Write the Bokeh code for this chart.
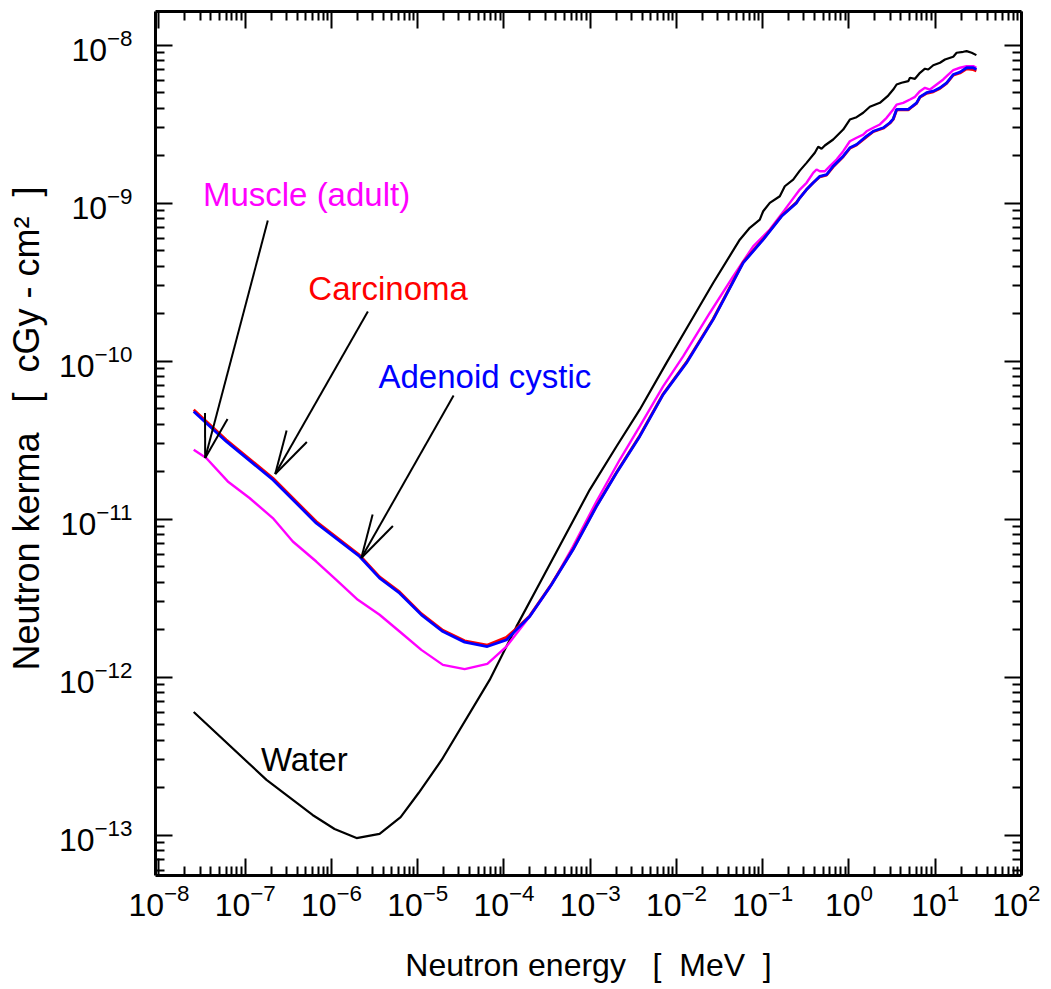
import math
import numpy as np
from bokeh.plotting import figure
from bokeh.models import Range1d, FixedTicker, Label, LogAxis, CustomJSTickFormatter
from bokeh.embed import file_html
from bokeh.resources import INLINE

# ---------------- data (log10 of energy [MeV] and log10 of kerma [cGy cm^2]) ----------------
water_log_e = [-7.597, -6.753, -6.219, -5.964, -5.709, -5.442, -5.198, -4.990, -4.723, -4.166,
               -3.856, -3.586, -3.316, -3.006, -2.696, -2.426, -2.116, -1.846, -1.575, -1.266,
               -1.150, -1.034, -0.995, -0.918, -0.802, -0.744, -0.647, -0.570, -0.492, -0.396,
               -0.357, -0.318, -0.280, -0.183, -0.067, 0.010, 0.088, 0.165, 0.242, 0.358,
               0.455, 0.513, 0.552, 0.610, 0.687, 0.707, 0.765, 0.823, 0.881, 0.919,
               0.977, 1.055, 1.113, 1.209, 1.248, 1.325, 1.364, 1.422, 1.477]
water_log_k = [-12.220, -12.650, -12.872, -12.961, -13.018, -12.992, -12.885, -12.733, -12.524, -12.017,
               -11.680, -11.405, -11.130, -10.814, -10.540, -10.307, -10.011, -9.758, -9.505, -9.231,
               -9.156, -9.104, -9.051, -8.998, -8.956, -8.893, -8.851, -8.794, -8.745, -8.681,
               -8.643, -8.656, -8.635, -8.597, -8.534, -8.471, -8.456, -8.428, -8.390, -8.365,
               -8.319, -8.281, -8.249, -8.238, -8.228, -8.206, -8.213, -8.175, -8.149, -8.154,
               -8.127, -8.111, -8.091, -8.073, -8.048, -8.042, -8.038, -8.048, -8.063]

muscle_log_e = [-7.597, -7.452, -7.202, -6.950, -6.680, -6.448, -6.176, -5.944, -5.694, -5.442,
                -5.210, -4.958, -4.708, -4.456, -4.193, -3.972, -3.702, -3.470, -3.200, -2.928,
                -2.658, -2.426, -2.155, -1.923, -1.614, -1.343, -1.111, -0.918, -0.744, -0.570,
                -0.492, -0.415, -0.376, -0.338, -0.280, -0.222, -0.144, -0.067, 0.010, 0.088,
                0.165, 0.204, 0.281, 0.358, 0.436, 0.513, 0.552, 0.629, 0.707, 0.765,
                0.823, 0.881, 0.939, 1.016, 1.093, 1.151, 1.209, 1.287, 1.364, 1.441, 1.477]
muscle_log_k = [-10.560, -10.613, -10.761, -10.866, -10.993, -11.141, -11.268, -11.384, -11.510, -11.605,
                -11.711, -11.827, -11.922, -11.949, -11.916, -11.806, -11.616, -11.434, -11.173, -10.888,
                -10.624, -10.413, -10.160, -9.970, -9.695, -9.463, -9.273, -9.167, -9.041, -8.914,
                -8.871, -8.808, -8.787, -8.798, -8.798, -8.766, -8.724, -8.671, -8.608, -8.586,
                -8.566, -8.545, -8.523, -8.502, -8.460, -8.407, -8.376, -8.365, -8.344, -8.327,
                -8.291, -8.270, -8.281, -8.249, -8.217, -8.186, -8.158, -8.143, -8.133, -8.133, -8.143]

adenoid_log_e = [-7.597, -7.220, -6.680, -6.176, -5.674, -5.442, -5.210, -4.958, -4.708, -4.456,
                 -4.193, -3.972, -3.856, -3.702, -3.450, -3.200, -2.928, -2.696, -2.426, -2.155,
                 -1.884, -1.575, -1.227, -0.995, -0.782, -0.608, -0.570, -0.492, -0.415, -0.338,
                 -0.260, -0.183, -0.067, 0.010, 0.088, 0.204, 0.281, 0.397, 0.474, 0.513,
                 0.552, 0.687, 0.726, 0.784, 0.823, 0.900, 0.977, 1.055, 1.132, 1.209,
                 1.287, 1.364, 1.441, 1.477]
adenoid_log_k = [-10.318, -10.508, -10.750, -11.025, -11.236, -11.373, -11.468, -11.605, -11.711, -11.778,
                 -11.806, -11.764, -11.700, -11.616, -11.415, -11.194, -10.920, -10.708, -10.476, -10.212,
                 -10.011, -9.737, -9.378, -9.231, -9.083, -8.998, -8.966, -8.914, -8.871, -8.830,
                 -8.819, -8.766, -8.703, -8.650, -8.629, -8.576, -8.545, -8.523, -8.491, -8.466,
                 -8.407, -8.407, -8.390, -8.365, -8.327, -8.301, -8.291, -8.270, -8.238, -8.186,
                 -8.171, -8.143, -8.143, -8.154]

carcinoma_log_e = adenoid_log_e
carcinoma_log_k = [-10.307, -10.498, -10.740, -11.015, -11.228, -11.365, -11.460, -11.598, -11.703, -11.770,
                   -11.797, -11.747, -11.692, -11.612, -11.412, -11.190, -10.916, -10.704, -10.472, -10.208,
                   -10.006, -9.733, -9.374, -9.227, -9.080, -8.995, -8.966, -8.914, -8.871, -8.833,
                   -8.822, -8.770, -8.706, -8.653, -8.632, -8.580, -8.548, -8.526, -8.494, -8.470,
                   -8.410, -8.410, -8.393, -8.368, -8.330, -8.305, -8.295, -8.274, -8.242, -8.190,
                   -8.176, -8.150, -8.155, -8.163]

x_major_exp = list(range(-8, 3))
y_major_exp = list(range(-13, -7))
minor_mult = [2, 3, 4, 5, 6, 7, 8, 9]

# annotation texts
label_muscle = "Muscle (adult)"
label_carc = "Carcinoma"
label_aden = "Adenoid cystic"
label_water = "Water"
NB = "\u00a0"
x_title = "Neutron energy" + NB * 3 + "[" + NB * 2 + "MeV" + NB * 2 + "]"
y_title = NB * 3 + "Neutron kerma" + NB * 3 + "[" + NB * 2 + "cGy - cm\u00b2" + NB * 2 + "]"

# ---------------- layout ----------------
FONT = "Liberation Sans"
X_LO, X_HI = -8.04, 2.0
Y_LO, Y_HI = -13.255, -7.787
BL, BT, BR, BB = 155, 11, 19, 112
FW, FH = 866, 864
W = BL + FW + BR
H = BT + FH + BB

p = figure(width=W, height=H, x_axis_type="log", y_axis_type="log",
           x_range=Range1d(10 ** X_LO, 10 ** X_HI), y_range=Range1d(10 ** Y_LO, 10 ** Y_HI),
           output_backend="svg", toolbar_location=None,
           min_border_left=BL, min_border_top=BT, min_border_right=BR, min_border_bottom=BB)
p.grid.visible = False
p.outline_line_color = None
p.background_fill_color = "white"
p.border_fill_color = "white"

xt = FixedTicker(ticks=[10.0 ** k for k in x_major_exp],
                 minor_ticks=[m * 10.0 ** k for k in range(-9, 2) for m in minor_mult])
yt = FixedTicker(ticks=[10.0 ** k for k in y_major_exp],
                 minor_ticks=[m * 10.0 ** k for k in range(-14, -7) for m in minor_mult])


def style(ax, show_labels):
    ax.axis_line_width = 3
    ax.axis_line_color = "black"
    ax.major_tick_in = 17
    ax.major_tick_out = 0
    ax.minor_tick_in = 9
    ax.minor_tick_out = 0
    ax.major_tick_line_width = 2
    ax.minor_tick_line_width = 2
    ax.major_tick_line_color = "black"
    ax.minor_tick_line_color = "black"
    if show_labels:
        ax.major_label_text_font = FONT
        ax.major_label_text_font_size = "32px"
        ax.major_label_text_color = "black"
        ax.axis_label_text_font = FONT
        ax.axis_label_text_font_size = "32px"
        ax.axis_label_text_font_style = "normal"
        ax.axis_label_text_color = "black"
    else:
        ax.formatter = CustomJSTickFormatter(code="return ''")
        ax.major_label_text_font_size = "0px"
        ax.major_label_standoff = 0


p.xaxis.ticker = xt
p.yaxis.ticker = yt
style(p.xaxis[0], True)
style(p.yaxis[0], True)
p.xaxis.major_label_standoff = 8
p.yaxis.major_label_standoff = 23
p.xaxis.axis_label = x_title
p.xaxis.axis_label_standoff = 28
p.yaxis.axis_label = y_title
p.yaxis.axis_label_standoff = 9
p.yaxis.axis_label_text_font_size = "36px"

top = LogAxis(ticker=xt)
right = LogAxis(ticker=yt)
style(top, False)
style(right, False)
p.add_layout(top, "above")
p.add_layout(right, "right")

# ---------------- curves ----------------
def pw(a):
    return 10.0 ** np.array(a)

p.line(pw(water_log_e), pw(water_log_k), line_color="black", line_width=2.2)
p.line(pw(muscle_log_e), pw(muscle_log_k), line_color="#FF00FF", line_width=2.4)
p.line(pw(carcinoma_log_e), pw(carcinoma_log_k), line_color="#FF0000", line_width=2.8)
p.line(pw(adenoid_log_e), pw(adenoid_log_k), line_color="#0000FF", line_width=2.8)

# ---------------- arrows (tail -> tip, in log10 data coords) ----------------
arrows = [
    ((-6.738, -9.110), (-7.464, -10.613)),
    ((-5.578, -9.685), (-6.652, -10.714)),
    ((-4.584, -10.217), (-5.654, -11.246)),
]
sx = FW / (X_HI - X_LO)
sy = FH / (Y_HI - Y_LO)
x0, y0, x1, y1 = [], [], [], []
for (tlx, tly), (hlx, hly) in arrows:
    x0.append(tlx); y0.append(tly); x1.append(hlx); y1.append(hly)
    dx = (tlx - hlx) * sx
    dy = -(tly - hly) * sy
    L = math.hypot(dx, dy)
    ux, uy = dx / L, dy / L
    for a in (math.radians(15), math.radians(-15)):
        wx = ux * math.cos(a) - uy * math.sin(a)
        wy = ux * math.sin(a) + uy * math.cos(a)
        x0.append(hlx); y0.append(hly)
        x1.append(hlx + 45 * wx / sx); y1.append(hly - 45 * wy / sy)
p.segment(pw(x0), pw(y0), pw(x1), pw(y1), line_color="black", line_width=2)

# ---------------- text labels ----------------
def add_label(text, lx, ly, color, size="33px"):
    p.add_layout(Label(x=10 ** lx, y=10 ** ly, text=text, text_font=FONT, text_font_size=size,
                       text_color=color, text_baseline="alphabetic", text_align="left"))

add_label(label_muscle, -7.490, -8.946, "#FF00FF")
add_label(label_carc, -6.268, -9.541, "#FF0000")
add_label(label_aden, -5.455, -10.099, "#0000FF")
add_label(label_water, -6.818, -12.518, "black")

open("out.html", "w").write(file_html(p, INLINE))
